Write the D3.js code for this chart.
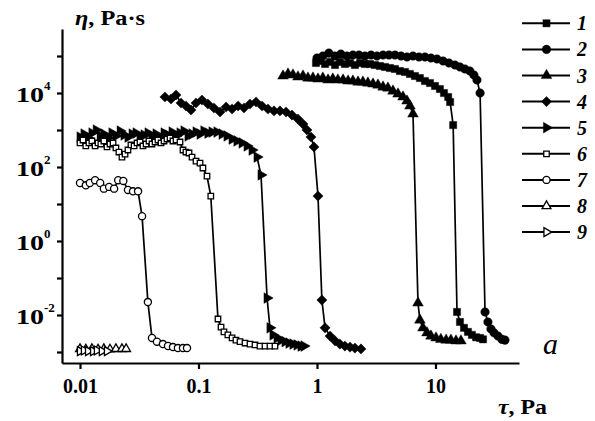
<!DOCTYPE html>
<html><head><meta charset="utf-8">
<script src="https://cdn.jsdelivr.net/npm/d3@7"></script>
<style>body{margin:0;background:#fff}svg{display:block}</style>
</head><body>
<svg id="c" width="595" height="421"></svg>
<script>
// ---- data (tau, Pa ; eta, Pa·s) ----
const xTicks = [0.01, 0.1, 1, 10];
const xTickLabels = ["0.01", "0.1", "1", "10"];
const yTicks = [1e-3, 1e-2, 1e-1, 1e0, 1e1, 1e2, 1e3, 1e4, 1e5];
const yLabelTicks = [1e-2, 1e0, 1e2, 1e4];
const yLabelExp = ["-2", "0", "2", "4"];
const legendLabels = ["1", "2", "3", "4", "5", "6", "7", "8", "9"];

const s1 = [[0.981,64700],[1.06,73300],[1.17,60800],[1.29,69000],[1.42,57100],[1.56,69000],[1.72,60800],[1.90,64700],[2.09,57100],[2.31,64700],[2.54,60800],[2.80,60800],[3.08,57100],[3.40,53700],[3.75,50500],[4.13,47400],[4.55,44600],[5.01,39300],[5.53,37000],[6.09,32700],[6.71,28800],[7.39,25400],[8.15,21100],[8.99,18600],[9.91,15500],[10.9,12800],[11.8,10000],[12.8,7800],[13.3,5710],[14.1,1360],[15.2,0.0121],[16.1,0.0065],[17.4,0.0045],[18.8,0.0035],[20.3,0.0029],[22.0,0.0025],[23.8,0.0024],[25.2,0.0022]];
const s2 = [[1.00,88300],[1.12,100000],[1.26,120000],[1.42,100000],[1.59,113000],[1.79,100000],[2.01,106000],[2.26,106000],[2.54,100000],[2.86,106000],[3.21,100000],[3.61,106000],[4.05,106000],[4.55,106000],[5.12,100000],[5.75,94000],[6.46,100000],[7.26,94000],[8.15,94000],[9.16,88300],[10.3,83000],[11.6,73300],[13.0,64700],[14.6,57100],[16.1,50500],[17.7,44600],[19.5,39300],[21.1,30700],[22.4,22500],[23.8,10000],[26.2,0.0121],[27.7,0.0065],[29.4,0.0042],[31.2,0.0033],[33.7,0.0027],[36.4,0.0022],[38.6,0.0021]];
const s3 = [[0.517,28800],[0.569,32700],[0.627,30700],[0.691,27100],[0.762,28800],[0.839,25400],[0.925,25400],[1.02,23900],[1.12,25400],[1.24,22500],[1.36,23900],[1.50,22500],[1.66,22500],[1.83,21100],[2.01,21100],[2.22,19800],[2.44,19800],[2.69,18600],[2.97,17500],[3.27,16400],[3.61,14500],[3.97,13600],[4.38,11300],[4.83,9400],[5.32,7800],[5.75,6080],[6.09,4460],[6.46,2710],[7.12,0.0211],[7.39,0.0073],[7.84,0.0045],[8.48,0.0033],[9.16,0.0027],[10.1,0.0024],[11.1,0.0022],[12.3,0.0021],[13.5,0.0021],[14.9,0.0020],[16.4,0.0020]];
const s4 = [[0.0521,7800],[0.0586,6890],[0.0646,8830],[0.0712,5370],[0.0784,4460],[0.0865,3480],[0.0953,5370],[0.107,6470],[0.120,5040],[0.135,3940],[0.152,3070],[0.171,4190],[0.192,3700],[0.216,4460],[0.242,3940],[0.272,5040],[0.306,5710],[0.344,4460],[0.386,3700],[0.434,3270],[0.487,3270],[0.548,3070],[0.615,2540],[0.691,1980],[0.762,1450],[0.823,1000],[0.890,647],[0.943,348],[1.02,16.4],[1.10,0.0254],[1.17,0.0045],[1.29,0.0027],[1.42,0.0020],[1.56,0.00164],[1.72,0.00145],[1.90,0.00136],[2.09,0.00128],[2.35,0.00121]];
const s5 = [[0.0100,647],[0.0108,780],[0.0117,608],[0.0126,830],[0.0137,1000],[0.0148,689],[0.0159,780],[0.0172,608],[0.0186,830],[0.0201,689],[0.0218,939],[0.0235,733],[0.0254,647],[0.0275,780],[0.0297,830],[0.0321,647],[0.0347,733],[0.0375,830],[0.0405,689],[0.0438,780],[0.0473,608],[0.0512,830],[0.0553,733],[0.0598,883],[0.0646,689],[0.0698,830],[0.0754,939],[0.0815,689],[0.0882,780],[0.0953,883],[0.103,780],[0.111,939],[0.120,830],[0.130,883],[0.143,883],[0.158,780],[0.174,689],[0.192,571],[0.211,505],[0.233,446],[0.257,370],[0.283,288],[0.312,186],[0.337,61],[0.379,0.0288],[0.401,0.0045],[0.425,0.0029],[0.460,0.0024],[0.497,0.0021],[0.537,0.0019],[0.580,0.00175],[0.627,0.00164],[0.678,0.00155],[0.733,0.00145],[0.777,0.00145]];
const s6 = [[0.0100,446],[0.0106,537],[0.0112,370],[0.0119,446],[0.0126,505],[0.0134,370],[0.0142,446],[0.0150,419],[0.0159,505],[0.0169,348],[0.0179,419],[0.0190,446],[0.0201,327],[0.0213,254],[0.0226,186],[0.0240,224],[0.0254,288],[0.0269,394],[0.0286,370],[0.0303,446],[0.0321,474],[0.0340,370],[0.0361,419],[0.0382,505],[0.0405,419],[0.0430,474],[0.0455,537],[0.0483,446],[0.0512,505],[0.0542,571],[0.0575,608],[0.0609,505],[0.0646,537],[0.0698,474],[0.0740,288],[0.0784,254],[0.0832,239],[0.0882,186],[0.0953,145],[0.103,128],[0.109,94],[0.118,57],[0.127,16.4],[0.146,0.0078],[0.155,0.0047],[0.164,0.0035],[0.177,0.0029],[0.192,0.0024],[0.207,0.0021],[0.224,0.0019],[0.247,0.00175],[0.272,0.00164],[0.300,0.00155],[0.330,0.00145],[0.364,0.00145],[0.401,0.00145],[0.442,0.00145]];
const s7 = [[0.0100,37],[0.0112,32],[0.0121,37],[0.0134,44],[0.0148,37],[0.0159,26],[0.0176,29],[0.0194,26],[0.0210,44],[0.0232,42],[0.0254,24],[0.0280,22],[0.0309,22],[0.0334,4.7],[0.0374,0.0224],[0.0405,0.0024],[0.0446,0.0019],[0.0501,0.00164],[0.0553,0.00145],[0.0609,0.00136],[0.067,0.00128],[0.074,0.00128],[0.080,0.00128]];
const s8 = [[0.0100,0.00121],[0.0112,0.00118],[0.0126,0.00121],[0.0142,0.00118],[0.0159,0.00121],[0.0179,0.00118],[0.0201,0.00121],[0.0226,0.00121],[0.0245,0.00121]];
const s9 = [[0.0100,0.00106],[0.0108,0.00110],[0.0117,0.00106],[0.0129,0.00106],[0.0139,0.00110],[0.0153,0.00106],[0.0169,0.00106]];

// ---- chart ----
const svg = d3.select("#c");
const serif = "'Liberation Serif','Times New Roman',serif";
const x = d3.scaleLog().domain([Math.pow(10,-2.152), Math.pow(10,1.705)]).range([62, 519]);
const y = d3.scaleLog().domain([Math.pow(10,-3.297), Math.pow(10,5.73)]).range([363, 29]);

const sq = d3.symbol().type(d3.symbolSquare);
const tri = d3.symbol().type(d3.symbolTriangle);
const cir = d3.symbol().type(d3.symbolCircle);
const styles = [
  {data:s1, path:sq.size(52)(), rot:0, fill:"#000"},
  {data:s2, path:cir.size(58)(), rot:0, fill:"#000"},
  {data:s3, path:tri.size(50)(), rot:0, fill:"#000"},
  {data:s4, path:sq.size(52)(), rot:45, fill:"#000"},
  {data:s5, path:tri.size(50)(), rot:90, fill:"#000"},
  {data:s6, path:sq.size(30)(), rot:0, fill:"#fff"},
  {data:s7, path:cir.size(40)(), rot:0, fill:"#fff"},
  {data:s8, path:tri.size(34)(), rot:0, fill:"#fff"},
  {data:s9, path:tri.size(34)(), rot:90, fill:"#fff"}
];
const order = [4,3,2,0,1,5,6,7,8];
const line = d3.line().x(d=>x(d[0])).y(d=>y(d[1]));
const g = svg.append("g");
order.forEach(i => {
  const st = styles[i];
  g.append("path").attr("d", line(st.data)).attr("fill","none").attr("stroke","#000").attr("stroke-width",1.7);
  g.selectAll(null).data(st.data).enter().append("path")
    .attr("d", st.path)
    .attr("transform", d => `translate(${x(d[0])},${y(d[1])}) rotate(${st.rot})`)
    .attr("fill", st.fill)
    .attr("stroke", "#000")
    .attr("stroke-width", st.fill === "#fff" ? 1.3 : 0.4);
});

// axes
const yAxis = svg.append("g").attr("transform","translate(62,0)")
  .call(d3.axisLeft(y).tickValues(yTicks).tickSize(5).tickSizeOuter(0).tickFormat(""));
const xAxis = svg.append("g").attr("transform","translate(0,363)")
  .call(d3.axisBottom(x).tickValues(xTicks).tickSize(6).tickSizeOuter(0).tickFormat((d,i)=>xTickLabels[i]));
[yAxis, xAxis].forEach(a => {
  a.select(".domain").attr("stroke","#000").attr("stroke-width",2.2);
  a.selectAll(".tick line").attr("stroke","#000").attr("stroke-width",2.2);
});
xAxis.selectAll(".tick text").attr("y",30).attr("dy",0)
  .attr("font-family",serif).attr("font-weight","bold").attr("font-size",20).attr("fill","#000");

// y tick labels: 10 with superscript
yLabelTicks.forEach((v,i) => {
  const ty = y(v);
  svg.append("text").attr("x",16).attr("y",ty+8.5)
    .attr("font-family",serif).attr("font-weight","bold").attr("font-size",20)
    .attr("textLength",28).attr("lengthAdjust","spacingAndGlyphs").text("10");
  svg.append("text").attr("x",44).attr("y",ty-3)
    .attr("font-family",serif).attr("font-weight","bold").attr("font-size",13).text(yLabelExp[i]);
});

// axis titles
const yt = svg.append("text").attr("x",75).attr("y",25)
  .attr("font-family",serif).attr("font-weight","bold").attr("font-size",20)
  .attr("textLength",70).attr("lengthAdjust","spacingAndGlyphs");
yt.append("tspan").attr("font-style","italic").text("η");
yt.append("tspan").text(", Pa·s");
const xt = svg.append("text").attr("x",498).attr("y",414)
  .attr("font-family",serif).attr("font-weight","bold").attr("font-size",20)
  .attr("textLength",49).attr("lengthAdjust","spacingAndGlyphs");
xt.append("tspan").attr("font-style","italic").text("τ");
xt.append("tspan").text(", Pa");
svg.append("text").attr("x",543).attr("y",354).attr("font-family",serif)
  .attr("font-style","italic").attr("font-size",30).text("a");

// legend
const lg = svg.append("g");
styles.forEach((st,i) => {
  const ly = 23.3 + i*26.1;
  lg.append("line").attr("x1",522).attr("x2",570).attr("y1",ly).attr("y2",ly)
    .attr("stroke","#000").attr("stroke-width",2);
  lg.append("path").attr("d",st.path).attr("transform",`translate(546.5,${ly}) rotate(${st.rot})`)
    .attr("fill",st.fill).attr("stroke","#000").attr("stroke-width", st.fill === "#fff" ? 1.3 : 0.4);
  lg.append("text").attr("x",577).attr("y",ly+7).attr("font-family",serif)
    .attr("font-style","italic").attr("font-weight","bold").attr("font-size",20).text(legendLabels[i]);
});
</script>
</body></html>
